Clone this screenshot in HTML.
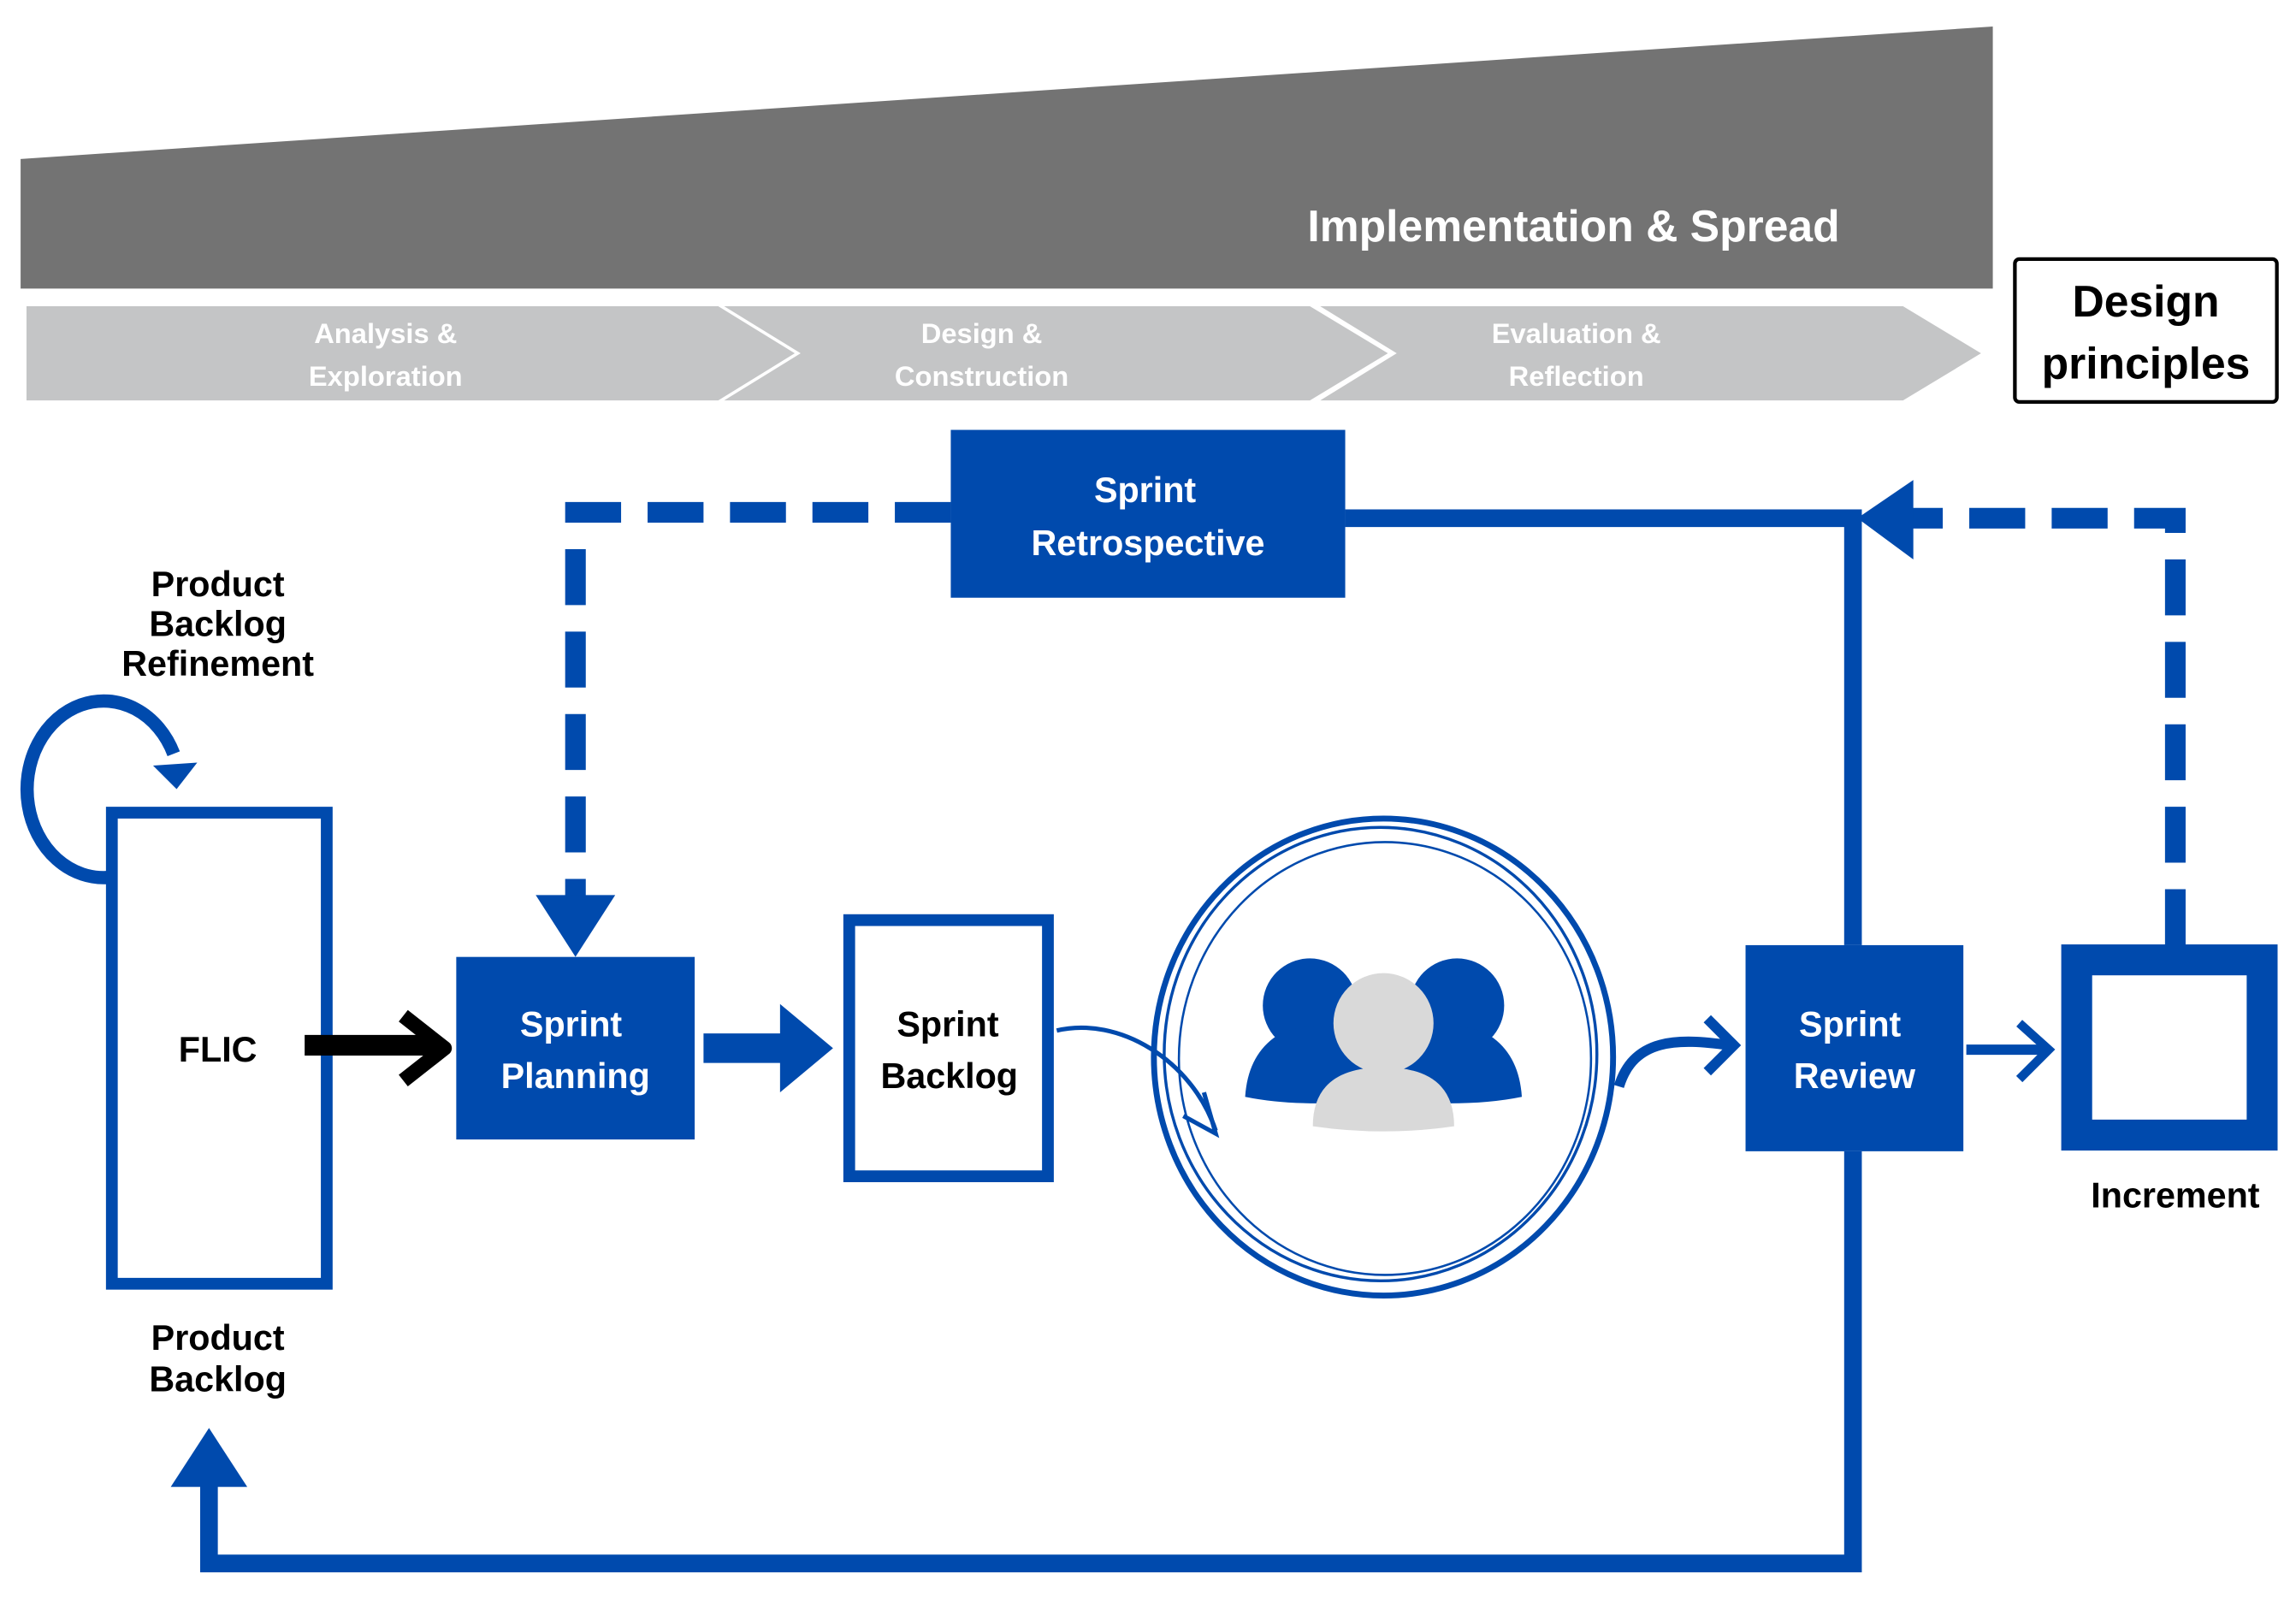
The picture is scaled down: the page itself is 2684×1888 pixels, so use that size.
<!DOCTYPE html>
<html><head><meta charset="utf-8"><style>
html,body{margin:0;padding:0;background:#fff;}
svg{display:block;}
text{font-family:"Liberation Sans",sans-serif;font-weight:bold;}
</style></head><body>
<svg width="2684" height="1888" viewBox="0 0 1560 1097" preserveAspectRatio="none" xmlns="http://www.w3.org/2000/svg">
<polygon points="14,108 1354,18 1354,196 14,196" fill="#737373"/>
<text x="1250" y="164" font-size="30" fill="#fff" text-anchor="end">Implementation &amp; Spread</text>
<polygon points="18,208 488,208 540,240 488,272 18,272" fill="#c4c5c6"/>
<polygon points="492,208 890,208 943,240 890,272 492,272 544,240" fill="#c4c5c6"/>
<polygon points="897,208 1293,208 1346,240 1293,272 897,272 949,240" fill="#c4c5c6"/>
<g font-size="19" fill="#fff" text-anchor="middle">
<text x="262" y="233">Analysis &amp;</text><text x="262" y="262">Exploration</text>
<text x="667" y="233">Design &amp;</text><text x="667" y="262">Construction</text>
<text x="1071" y="233">Evaluation &amp;</text><text x="1071" y="262">Reflection</text>
</g>
<rect x="1369" y="176" width="178" height="97" rx="3" fill="#fff" stroke="#000" stroke-width="2.5"/>
<text x="1458" y="215" font-size="30" text-anchor="middle" fill="#000">Design</text>
<text x="1458" y="257" font-size="30" text-anchor="middle" fill="#000">principles</text>

<g stroke="#004aad" fill="none">
<path d="M646,348 H391 V612" stroke-width="14" stroke-dasharray="38,18"/>
<path d="M914,352 H1259 V642" stroke-width="12"/>
<path d="M1478,642 V352 H1296" stroke-width="14" stroke-dasharray="38,18"/>
<path d="M1259,782 V1062 H142 V1005" stroke-width="12"/>
<path d="M1336,713 H1388" stroke-width="7"/>
<path d="M1372,695 L1392,713 L1372,733" stroke-width="6"/>
<path d="M74,596 A52,60 0 1 1 118,512" stroke-width="9"/>
<path d="M718,700 C760,690 810,720 826,768" stroke-width="3"/>
<path d="M818,742 L826,770 L804,758" stroke-width="3"/>
<path d="M1100,738 C1110,705 1140,705 1175,710" stroke-width="7"/>
<path d="M1160,692 L1178,710 L1160,728" stroke-width="7"/>
</g>
<g fill="#004aad">
<polygon points="364,608 418,608 391,650"/>
<polygon points="1300,326 1300,380 1262,352"/>
<polygon points="116,1010 168,1010 142,970"/>
<polygon points="104,520 134,518 120,536"/>
<polygon points="478,702 530,702 530,682 566,712 530,742 530,722 478,722"/>
</g>
<rect x="646" y="292" width="268" height="114" fill="#004aad"/>
<text x="778" y="341" font-size="24" fill="#fff" text-anchor="middle">Sprint</text>
<text x="780" y="377" font-size="24" fill="#fff" text-anchor="middle">Retrospective</text>
<rect x="76" y="552" width="146" height="320" fill="#fff" stroke="#004aad" stroke-width="8"/>
<text x="148" y="721" font-size="24" text-anchor="middle" fill="#000">FLIC</text>
<path d="M207,710 H296" stroke="#000" stroke-width="14" fill="none"/>
<path d="M274,690 L302,712 L274,734" stroke="#000" stroke-width="10" fill="none" stroke-linejoin="round"/>
<rect x="310" y="650" width="162" height="124" fill="#004aad"/>
<text x="388" y="704" font-size="24" fill="#fff" text-anchor="middle">Sprint</text>
<text x="391" y="739" font-size="24" fill="#fff" text-anchor="middle">Planning</text>
<rect x="577" y="625" width="135" height="174" fill="#fff" stroke="#004aad" stroke-width="8"/>
<text x="644" y="704" font-size="24" fill="#000" text-anchor="middle">Sprint</text>
<text x="645" y="739" font-size="24" fill="#000" text-anchor="middle">Backlog</text>
<rect x="1186" y="642" width="148" height="140" fill="#004aad"/>
<text x="1257" y="704" font-size="24" fill="#fff" text-anchor="middle">Sprint</text>
<text x="1260" y="739" font-size="24" fill="#fff" text-anchor="middle">Review</text>
<rect x="1411" y="652" width="126" height="119" fill="#fff" stroke="#004aad" stroke-width="21"/>
<text x="1478" y="820" font-size="24" fill="#000" text-anchor="middle">Increment</text>
<g fill="none" stroke="#004aad">
<ellipse cx="940" cy="718" rx="156" ry="162" stroke-width="4"/>
<ellipse cx="938" cy="716" rx="147" ry="154" stroke-width="2"/>
<ellipse cx="941" cy="719" rx="140" ry="147" stroke-width="1.5"/>
</g>
<g fill="#004aad">
<circle cx="890" cy="683" r="32"/>
<path d="M846,745 Q880,752 930,748 L930,705 Q900,690 870,702 Q848,715 846,745 Z"/>
<circle cx="990" cy="683" r="32"/>
<path d="M1034,745 Q1000,752 950,748 L950,705 Q980,690 1010,702 Q1032,715 1034,745 Z"/>
</g>
<g fill="#d9d9d9">
<circle cx="940" cy="695" r="34"/>
<path d="M892,765 Q892,725 940,725 Q988,725 988,765 Q940,772 892,765 Z"/>
</g>
<g font-size="24" fill="#000" text-anchor="middle">
<text x="148" y="405">Product</text><text x="148" y="432">Backlog</text><text x="148" y="459">Refinement</text>
<text x="148" y="917">Product</text><text x="148" y="945">Backlog</text>
</g>
</svg>
</body></html>
